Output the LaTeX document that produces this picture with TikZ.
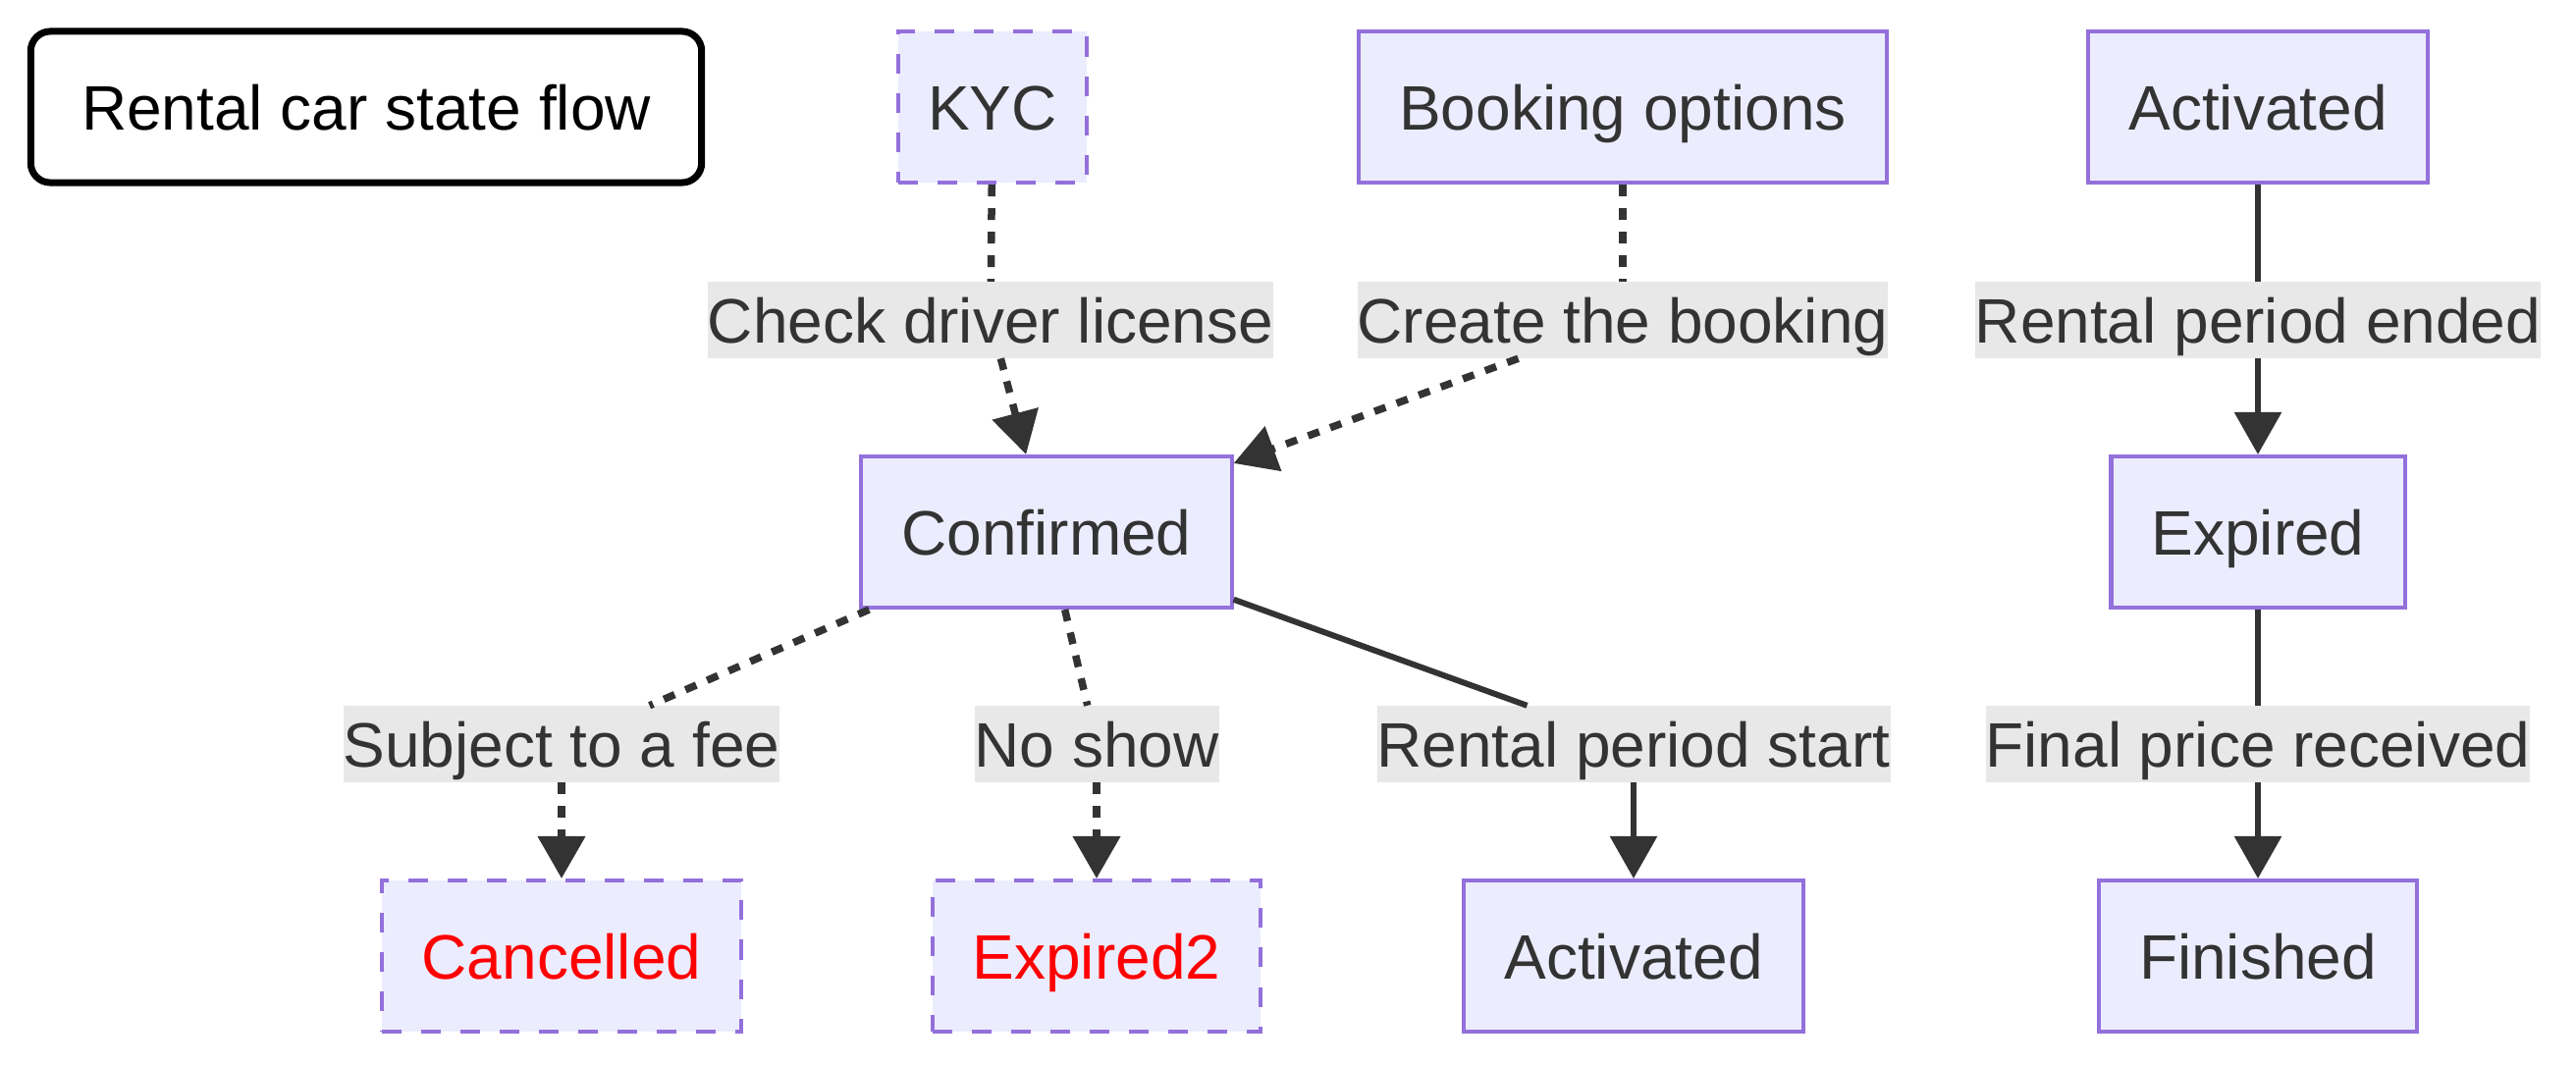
\documentclass[tikz,border=0pt]{standalone}
\usepackage{fontspec}
\setmainfont{Liberation Sans}
\usetikzlibrary{arrows.meta}
\definecolor{stfill}{HTML}{ECECFF}
\definecolor{stline}{HTML}{9370DB}
\definecolor{ink}{HTML}{333333}
\definecolor{lblgray}{HTML}{E8E8E8}
\definecolor{alert}{HTML}{FF0000}
\newcommand{\stfont}{\fontsize{18.2}{22}\selectfont}
\tikzstyle{state} = [rectangle, draw=stline, fill=stfill, line width=0.04cm, minimum height=1.54cm, inner xsep=0.41cm, text height=0.46cm, text depth=0cm, text=ink, font=\stfont]
\tikzstyle{optstate} = [state, dash pattern=on 0.2cm off 0.2cm]
\tikzstyle{heading} = [rectangle, draw=black, line width=0.07cm, rounded corners=0.2cm, minimum width=6.83cm, minimum height=1.54cm, text height=0.46cm, text depth=0cm, font=\stfont]
\tikzstyle{lbl} = [rectangle, fill=lblgray, inner sep=0pt, minimum height=0.77cm, text height=0.46cm, text depth=0cm, text=ink, font=\stfont]
\tikzstyle{seg} = [draw=ink, line width=0.06cm]
\tikzstyle{dotseg} = [draw=ink, line width=0.075cm, dash pattern=on 0.12cm off 0.12cm]
\tikzstyle{tip} = [-{Triangle[length=0.43cm,width=0.47cm]}]

\begin{document}
\begin{tikzpicture}[x=0.01cm,y=-0.01cm]%
	\useasboundingbox (0,0) rectangle (2624,1084);%
	% states
	\node [heading] (ttl) at (373,109) {Rental car state flow};%
	\node [optstate, inner xsep=0.3cm] (kyc) at (1011,109) {KYC};%
	\node [state] (booking) at (1653,109) {Booking options};%
	\node [state] (actA) at (2300,109) {Activated};%
	\node [state] (confirmed) at (1066,542) {Confirmed};%
	\node [state] (expired) at (2300,542) {Expired};%
	\node [optstate, text=alert] (cancelled) at (572,974) {Cancelled};%
	\node [optstate, text=alert] (expiredB) at (1117,974) {Expired2};%
	\node [state] (actB) at (1664,974) {Activated};%
	\node [state] (finished) at (2300,974) {Finished};%
	% edge labels
	\node [lbl] (lkyc) at (1009,326) {Check driver license};%
	\node [lbl] (lbook) at (1653,326) {Create the booking};%
	\node [lbl] (lended) at (2300,326) {Rental period ended};%
	\node [lbl] (lfee) at (572,758) {Subject to a fee};%
	\node [lbl] (lnoshow) at (1117,758) {No show};%
	\node [lbl] (lstart) at (1664,758) {Rental period start};%
	\node [lbl] (lprice) at (2300,758) {Final price received};%
	% transitions
	\draw [dotseg] (kyc) -- (lkyc);%
	\draw [dotseg, tip] (lkyc) -- (confirmed);%
	\draw [dotseg] (booking) -- (lbook);%
	\draw [dotseg, tip] (lbook) -- (confirmed);%
	\draw [dotseg] (confirmed) -- (lfee);%
	\draw [dotseg, tip] (lfee) -- (cancelled);%
	\draw [dotseg] (confirmed) -- (lnoshow);%
	\draw [dotseg, tip] (lnoshow) -- (expiredB);%
	\draw [seg] (confirmed) -- (lstart);%
	\draw [seg, tip] (lstart) -- (actB);%
	\draw [seg] (actA) -- (lended);%
	\draw [seg, tip] (lended) -- (expired);%
	\draw [seg] (expired) -- (lprice);%
	\draw [seg, tip] (lprice) -- (finished);%
\end{tikzpicture}
\end{document}
